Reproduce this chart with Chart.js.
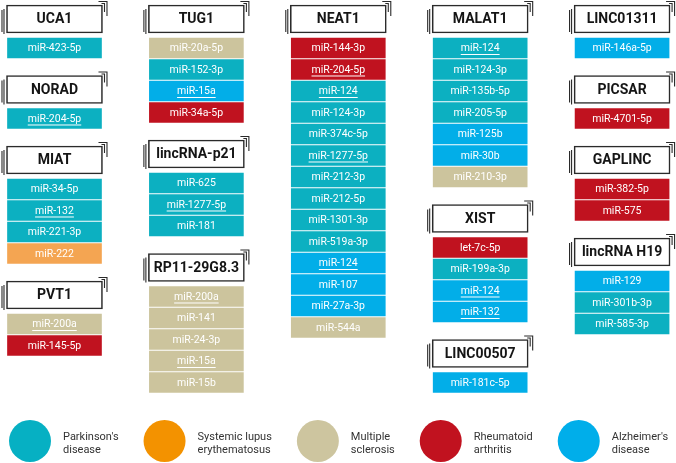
<!DOCTYPE html>
<html>
<head>
<meta charset="utf-8">
<script src="https://cdn.jsdelivr.net/npm/chart.js@4"></script>
<style>
  body { margin: 0; background: #fff; }
</style>
</head>
<body>
<canvas id="myChart" width="676" height="463"></canvas>
<script>
// lncRNA names and the column each one sits in
var lncNames = ['UCA1', 'NORAD', 'MIAT', 'PVT1', 'TUG1', 'lincRNA-p21', 'RP11-29G8.3', 'NEAT1',
  'MALAT1', 'XIST', 'LINC00507', 'LINC01311', 'PICSAR', 'GAPLINC', 'lincRNA H19'];
var lncColumn = [0, 0, 0, 0, 1, 1, 1, 2, 3, 3, 3, 4, 4, 4, 4];

// miRNAs under each lncRNA
var miRNAs = [
  ['miR-423-5p'],
  ['miR-204-5p'],
  ['miR-34-5p', 'miR-132', 'miR-221-3p', 'miR-222'],
  ['miR-200a', 'miR-145-5p'],
  ['miR-20a-5p', 'miR-152-3p', 'miR-15a', 'miR-34a-5p'],
  ['miR-625', 'miR-1277-5p', 'miR-181'],
  ['miR-200a', 'miR-141', 'miR-24-3p', 'miR-15a', 'miR-15b'],
  ['miR-144-3p', 'miR-204-5p', 'miR-124', 'miR-124-3p', 'miR-374c-5p', 'miR-1277-5p', 'miR-212-3p',
   'miR-212-5p', 'miR-1301-3p', 'miR-519a-3p', 'miR-124', 'miR-107', 'miR-27a-3p', 'miR-544a'],
  ['miR-124', 'miR-124-3p', 'miR-135b-5p', 'miR-205-5p', 'miR-125b', 'miR-30b', 'miR-210-3p'],
  ['let-7c-5p', 'miR-199a-3p', 'miR-124', 'miR-132'],
  ['miR-181c-5p'],
  ['miR-146a-5p'],
  ['miR-4701-5p'],
  ['miR-382-5p', 'miR-575'],
  ['miR-129', 'miR-301b-3p', 'miR-585-3p']
];

// disease of each miRNA: 0 PD, 1 SLE, 2 MS, 3 RA, 4 AD
var miRDisease = [
  [0],
  [0],
  [0, 0, 0, 1],
  [2, 3],
  [2, 0, 4, 3],
  [0, 0, 0],
  [2, 2, 2, 2, 2],
  [3, 3, 0, 0, 0, 0, 0, 0, 0, 0, 4, 4, 4, 2],
  [0, 0, 0, 0, 4, 4, 2],
  [3, 0, 4, 4],
  [4],
  [4],
  [3],
  [3, 3],
  [4, 0, 0]
];

// underlined names
var miRUnderline = [
  [0], [1], [0, 1, 0, 0], [1, 0], [0, 0, 1, 0], [0, 1, 0], [1, 0, 0, 1, 0],
  [0, 1, 1, 0, 0, 1, 0, 0, 0, 0, 1, 0, 0, 0],
  [1, 0, 0, 0, 0, 0, 0], [0, 0, 1, 1], [0], [0], [0], [0, 0], [0, 0, 0]
];

var diseaseNames = [["Parkinson's", 'disease'], ['Systemic lupus', 'erythematosus'],
  ['Multiple', 'sclerosis'], ['Rheumatoid', 'arthritis'], ["Alzheimer's", 'disease']];

// colours
var cellColors = ['#0cb0c1', '#f4a552', '#ccc49d', '#c0121f', '#02aee8'];
var dotColors = ['#06b0c3', '#f39200', '#cdc59f', '#c1121f', '#00aeea'];

// layout in row units (one row = one cell)
var TOP = 38 / 21.5;     // first cell row
var GAP = 49 / 21.5;     // room for a header between groups

var cellSets = diseaseNames.map(function (d, k) {
  return {
    label: d.join(' '),
    data: [],
    backgroundColor: cellColors[k],
    barThickness: 94,
    grouped: false,
    clip: false
  };
});
var headerSet = {
  label: 'lncRNA',
  data: [],
  backgroundColor: '#ffffff',
  borderColor: '#2a2a2a',
  borderWidth: 1.6,
  borderSkipped: false,
  barThickness: 96,
  grouped: false,
  clip: false,
  isHeader: true
};

var cursor = [TOP, TOP, TOP, TOP, TOP];
var started = [false, false, false, false, false];
for (let g = 0; g < lncNames.length; g++) {
  var c = lncColumn[g];
  if (started[c]) cursor[c] += GAP;
  started[c] = true;
  var u = cursor[c];
  headerSet.data.push({ x: c, y: [u - 1.535, u - 0.233], name: lncNames[g] });
  for (let k = 0; k < miRNAs[g].length; k++) {
    cellSets[miRDisease[g][k]].data.push({
      x: c, y: [u + k, u + k + 0.93], name: miRNAs[g][k], ul: miRUnderline[g][k]
    });
  }
  cursor[c] = u + miRNAs[g].length;
}

// texts inside the boxes + header decorations
var labelPlugin = {
  id: 'cellLabels',
  afterDatasetsDraw: function (chart) {
    var ctx = chart.ctx;
    ctx.save();
    chart.data.datasets.forEach(function (ds, i) {
      var meta = chart.getDatasetMeta(i);
      meta.data.forEach(function (bar, j) {
        var item = ds.data[j];
        var top = Math.min(bar.y, bar.base), bottom = Math.max(bar.y, bar.base);
        var left = bar.x - bar.width / 2, right = bar.x + bar.width / 2;
        var cy = (top + bottom) / 2;
        ctx.textAlign = 'center';
        ctx.textBaseline = 'middle';
        if (ds.isHeader) {
          ctx.strokeStyle = '#2a2a2a';
          ctx.lineWidth = 1.1;
          ctx.beginPath();
          // double line on the left
          ctx.moveTo(left - 4.5, top + 5); ctx.lineTo(left - 4.5, bottom - 1);
          ctx.moveTo(left - 2.5, top + 4); ctx.lineTo(left - 2.5, bottom + 1);
          // corner bracket top right
          ctx.moveTo(right - 4, top - 3.5); ctx.lineTo(right + 4.5, top - 3.5); ctx.lineTo(right + 4.5, top + 11);
          ctx.moveTo(right - 1, top - 1.5); ctx.lineTo(right + 2, top - 1.5); ctx.lineTo(right + 2, top + 7);
          ctx.stroke();
          ctx.fillStyle = '#151515';
          ctx.font = 'bold 14px Roboto';
          ctx.fillText(item.name, bar.x, cy + 1);
        } else {
          ctx.fillStyle = '#ffffff';
          ctx.font = '10.5px Roboto';
          ctx.fillText(item.name, bar.x, cy + 0.5);
          if (item.ul) {
            var w = ctx.measureText(item.name).width;
            ctx.strokeStyle = '#ffffff';
            ctx.lineWidth = 1;
            ctx.beginPath();
            ctx.moveTo(bar.x - w / 2, cy + 6.5);
            ctx.lineTo(bar.x + w / 2, cy + 6.5);
            ctx.stroke();
          }
        }
      });
    });
    ctx.restore();
  },
  // disease legend along the bottom
  afterDraw: function (chart) {
    var ctx = chart.ctx;
    ctx.save();
    ctx.font = '11px Roboto';
    ctx.textAlign = 'left';
    ctx.textBaseline = 'alphabetic';
    var x = 9;
    for (let k = 0; k < diseaseNames.length; k++) {
      ctx.fillStyle = dotColors[k];
      ctx.beginPath();
      ctx.arc(x + 21, 441, 21, 0, Math.PI * 2);
      ctx.fill();
      ctx.fillStyle = '#333333';
      var tx = x + 54;
      ctx.fillText(diseaseNames[k][0], tx, 439.5);
      ctx.fillText(diseaseNames[k][1], tx, 453);
      var w = Math.max(ctx.measureText(diseaseNames[k][0]).width, ctx.measureText(diseaseNames[k][1]).width);
      x = tx + w + 25;
    }
    ctx.restore();
  }
};

var canvas = document.getElementById('myChart').getContext('2d');
var myChart = new Chart(canvas, {
  type: 'bar',
  data: {
    datasets: cellSets.concat([headerSet])
  },
  options: {
    responsive: false,
    animation: false,
    events: [],
    layout: { padding: 0 },
    scales: {
      x: { type: 'linear', offset: false, min: -0.384, max: 4.38, display: false },
      y: { type: 'linear', min: 0, max: 463 / 21.5, reverse: true, display: false }
    },
    plugins: {
      legend: { display: false },
      tooltip: { enabled: false }
    }
  },
  plugins: [labelPlugin]
});
</script>
</body>
</html>
